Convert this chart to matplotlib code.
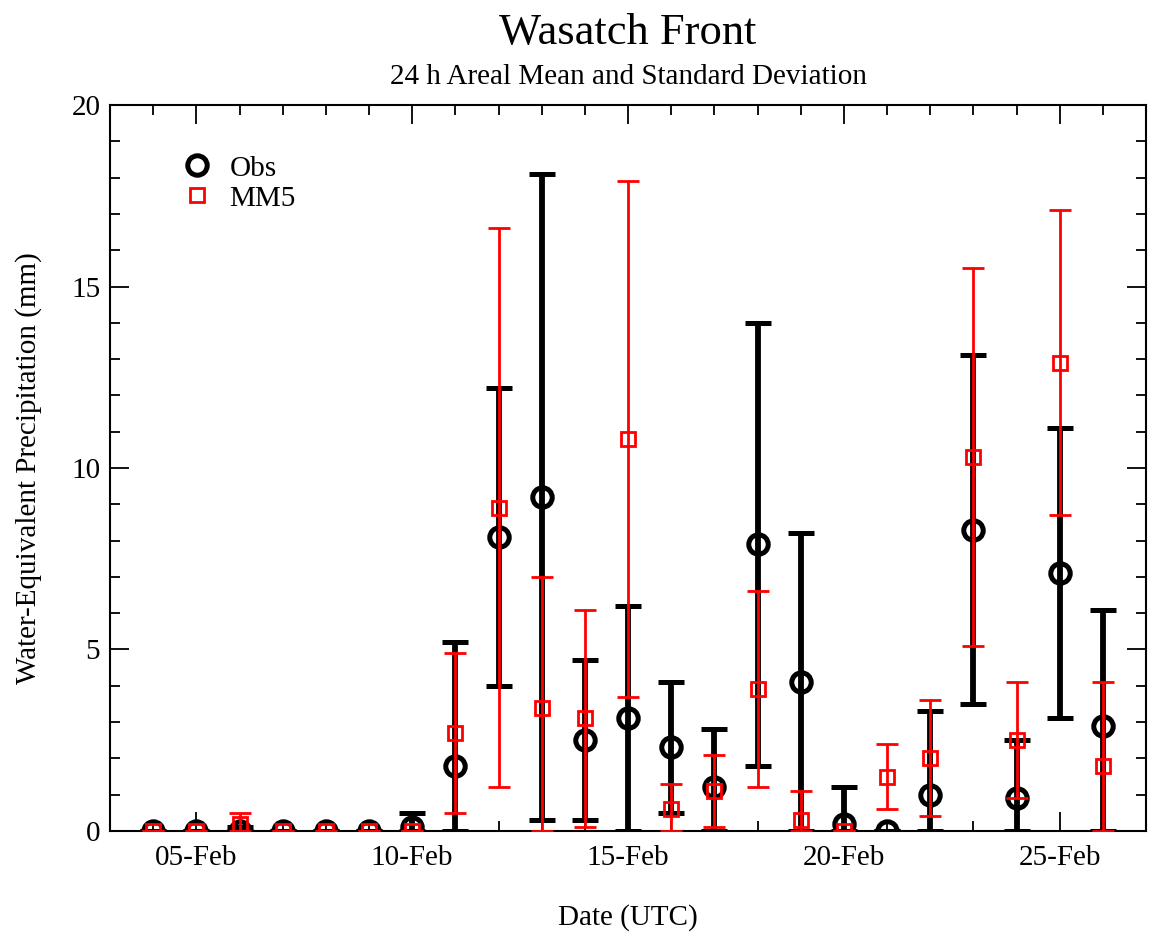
import numpy as np
import matplotlib
matplotlib.use("Agg")
import matplotlib.pyplot as plt
import matplotlib.dates as mdates

plt.rcParams['font.family'] = ['Liberation Serif', 'DejaVu Serif']

# day of month (February), one value per 24 h period
days = [4, 5, 6, 7, 8, 9, 10, 11, 12, 13, 14, 15, 16, 17, 18, 19, 20, 21, 22, 23, 24, 25, 26]

# observed areal mean and standard deviation (mm)
obs_mean = [0.0, 0.0, 0.0, 0.0, 0.0, 0.0, 0.1, 1.8, 8.1, 9.2, 2.5, 3.1, 2.3, 1.2, 7.9, 4.1, 0.2, 0.0, 1.0, 8.3, 0.9, 7.1, 2.9]
obs_std = [0.0, 0.0, 0.1, 0.0, 0.0, 0.0, 0.4, 3.4, 4.1, 8.9, 2.2, 3.1, 1.8, 1.6, 6.1, 4.1, 1.0, 0.0, 2.3, 4.8, 1.6, 4.0, 3.2]

# MM5 areal mean and standard deviation (mm)
mm5_mean = [0.0, 0.0, 0.2, 0.0, 0.0, 0.0, 0.0, 2.7, 8.9, 3.4, 3.1, 10.8, 0.6, 1.1, 3.9, 0.3, 0.0, 1.5, 2.0, 10.3, 2.5, 12.9, 1.8]
mm5_std = [0.0, 0.0, 0.3, 0.0, 0.0, 0.0, 0.0, 2.2, 7.7, 3.6, 3.0, 7.1, 0.7, 1.0, 2.7, 0.8, 0.0, 0.9, 1.6, 5.2, 1.6, 4.2, 2.3]

dates = [np.datetime64('2004-02-%02d' % d) for d in days]

obs_mean = np.array(obs_mean)
obs_std = np.array(obs_std)
mm5_mean = np.array(mm5_mean)
mm5_std = np.array(mm5_std)

# precipitation can't go below zero, so clip the lower bar
obs_err = [np.minimum(obs_std, obs_mean), obs_std]
mm5_err = [np.minimum(mm5_std, mm5_mean), mm5_std]

fig = plt.figure(figsize=(11.63, 9.32), dpi=100)
ax = fig.add_axes([0.0946, 0.1084, 0.8908, 0.7789])

ax.errorbar(dates, obs_mean, yerr=obs_err, fmt='o', color='black', mfc='none',
            mec='black', ms=14, mew=3.6, elinewidth=4.2, capsize=9.5, capthick=4.2,
            label='Obs', zorder=3)
ax.errorbar(dates, mm5_mean, yerr=mm5_err, fmt='s', color='red', mfc='none',
            mec='red', ms=10, mew=2.0, elinewidth=2.0, capsize=8, capthick=2.0,
            label='MM5', zorder=4)

ax.set_xlim(np.datetime64('2004-02-03'), np.datetime64('2004-02-27'))
ax.set_ylim(0, 20)

ax.xaxis.set_major_locator(mdates.DayLocator(bymonthday=[5, 10, 15, 20, 25]))
ax.xaxis.set_minor_locator(mdates.DayLocator())
ax.xaxis.set_major_formatter(mdates.DateFormatter('%d-%b'))
ax.set_yticks([0, 5, 10, 15, 20])
ax.set_yticks(np.arange(0, 21, 1), minor=True)

ax.tick_params(which='both', direction='in', top=True, right=True, width=1.3,
               labelsize=21)
ax.tick_params(which='major', length=14)
ax.tick_params(axis='x', which='major', pad=10)
ax.tick_params(axis='y', which='major', pad=7)
ax.tick_params(which='minor', length=7)
for s in ax.spines.values():
    s.set_linewidth(1.5)

ax.set_xlabel('Date (UTC)', fontsize=21, labelpad=24)
ax.set_ylabel('Water-Equivalent Precipitation (mm)', fontsize=21, labelpad=21)

fig.text(0.54, 0.953, 'Wasatch Front', ha='center', va='baseline', fontsize=32)
fig.text(0.54, 0.910, '24 h Areal Mean and Standard Deviation', ha='center',
         va='baseline', fontsize=21)

h, l = ax.get_legend_handles_labels()
h = [hh[0] for hh in h]
ax.legend(h, l, loc='upper left', bbox_to_anchor=(0.045, 0.967), frameon=False,
          fontsize=21, handlelength=1.0, handletextpad=0.6, labelspacing=0.12)

fig.savefig('out.png', dpi=100)
